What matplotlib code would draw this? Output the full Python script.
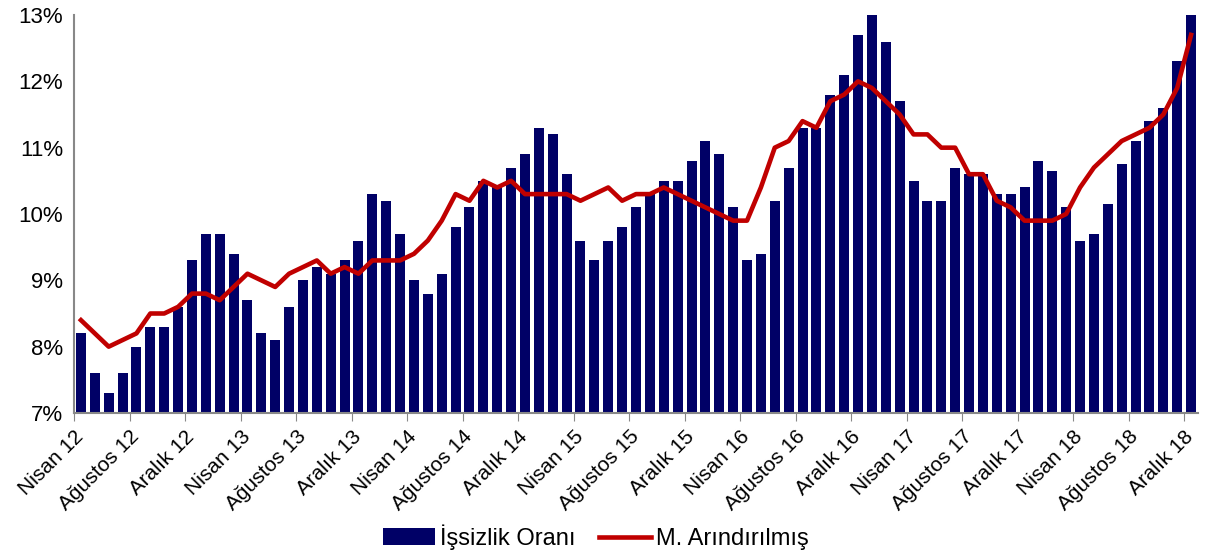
import matplotlib
matplotlib.use("Agg")
import matplotlib.pyplot as plt
import numpy as np

plt.rcParams['font.family'] = ['Liberation Sans', 'DejaVu Sans']

# monthly, Nisan 2012 - Aralik 2018
issizlik = [8.2, 7.6, 7.3, 7.6, 8.0, 8.3, 8.3, 8.6, 9.3, 9.7, 9.7, 9.4,
            8.7, 8.2, 8.1, 8.6, 9.0, 9.2, 9.1, 9.3, 9.6, 10.3, 10.2, 9.7,
            9.0, 8.8, 9.1, 9.8, 10.1, 10.5, 10.4, 10.7, 10.9, 11.3, 11.2, 10.6,
            9.6, 9.3, 9.6, 9.8, 10.1, 10.3, 10.5, 10.5, 10.8, 11.1, 10.9, 10.1,
            9.3, 9.4, 10.2, 10.7, 11.3, 11.3, 11.8, 12.1, 12.7, 13.0, 12.6, 11.7,
            10.5, 10.2, 10.2, 10.7, 10.6, 10.6, 10.3, 10.3, 10.4, 10.8, 10.65, 10.1,
            9.6, 9.7, 10.15, 10.75, 11.1, 11.4, 11.6, 12.3, 13.5]
arindirilmis = [8.4, 8.2, 8.0, 8.1, 8.2, 8.5, 8.5, 8.6, 8.8, 8.8, 8.7, 8.9,
                9.1, 9.0, 8.9, 9.1, 9.2, 9.3, 9.1, 9.2, 9.1, 9.3, 9.3, 9.3,
                9.4, 9.6, 9.9, 10.3, 10.2, 10.5, 10.4, 10.5, 10.3, 10.3, 10.3, 10.3,
                10.2, 10.3, 10.4, 10.2, 10.3, 10.3, 10.4, 10.3, 10.2, 10.1, 10.0, 9.9,
                9.9, 10.4, 11.0, 11.1, 11.4, 11.3, 11.7, 11.8, 12.0, 11.9, 11.7, 11.5,
                11.2, 11.2, 11.0, 11.0, 10.6, 10.6, 10.2, 10.1, 9.9, 9.9, 9.9, 10.0,
                10.4, 10.7, 10.9, 11.1, 11.2, 11.3, 11.5, 11.9, 12.7]
etiketler = ['Nisan 12', 'Ağustos 12', 'Aralık 12', 'Nisan 13', 'Ağustos 13', 'Aralık 13',
             'Nisan 14', 'Ağustos 14', 'Aralık 14', 'Nisan 15', 'Ağustos 15', 'Aralık 15',
             'Nisan 16', 'Ağustos 16', 'Aralık 16', 'Nisan 17', 'Ağustos 17', 'Aralık 17',
             'Nisan 18', 'Ağustos 18', 'Aralık 18']

x = np.arange(len(issizlik))

fig = plt.figure(figsize=(12.05, 5.55), dpi=100)
ax = fig.add_axes([74/1205, 1-413/555, (1198-74)/1205, (413-15)/555])

bars = ax.bar(x, issizlik, width=0.72, color='#000066', label='İşsizlik Oranı', zorder=2)
line, = ax.plot(x, arindirilmis, color='#C00000', lw=3.3, label='M. Arındırılmış', zorder=3,
                solid_joinstyle='round')

ax.set_xlim(-0.5, len(x) - 0.5)
ax.set_ylim(7, 13)
ax.set_yticks(np.arange(7, 14))
ax.set_yticklabels([str(v) + '%' for v in range(7, 14)], fontsize=16)

ax.set_xticks(np.arange(0, len(x), 4) - 0.5)
ax.set_xticklabels(etiketler, rotation=45, ha='right', rotation_mode='anchor', fontsize=15)
ax.tick_params(axis='x', length=6, color='#888888', direction='out', pad=4)
ax.tick_params(axis='y', length=0, pad=8)

for s in ['top', 'right']:
    ax.spines[s].set_visible(False)
for s in ['left', 'bottom']:
    ax.spines[s].set_color('#888888')
    ax.spines[s].set_linewidth(1.5)

fig.legend([bars, line], ['İşsizlik Oranı', 'M. Arındırılmış'],
           loc='center', bbox_to_anchor=(596/1205, 1-537/555), ncol=2, frameon=False,
           fontsize=17, handlelength=2.2, handletextpad=0.2, columnspacing=1.0)

plt.savefig('out.png', dpi=100)
